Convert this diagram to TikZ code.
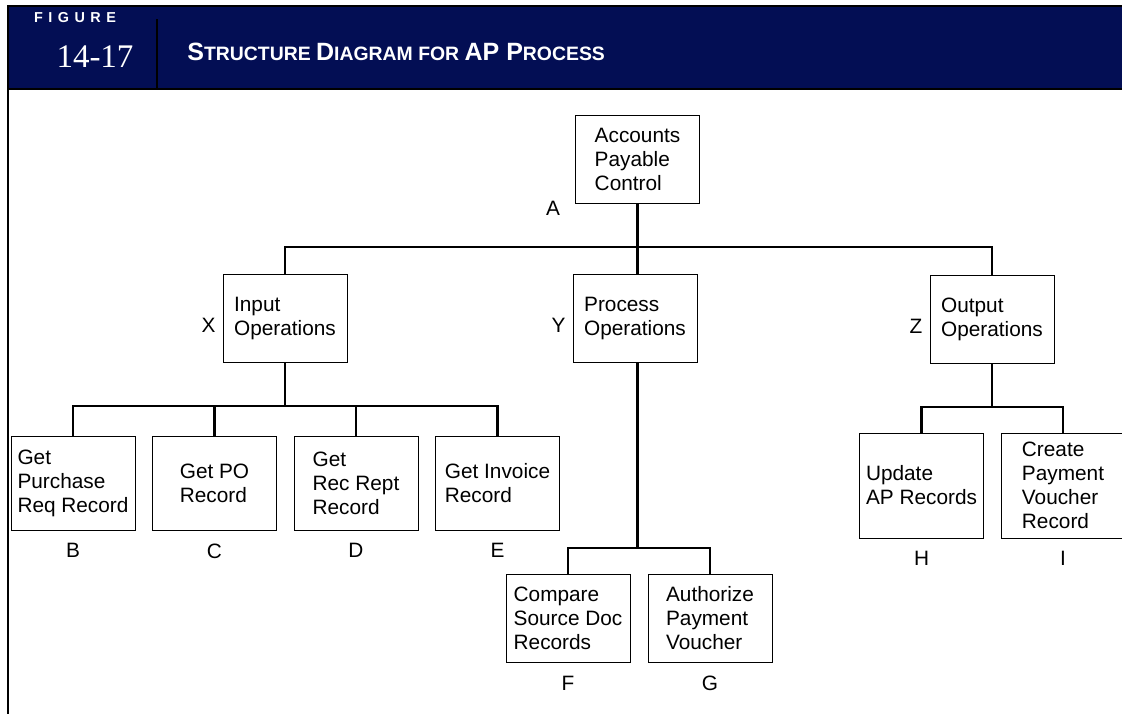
\documentclass[tikz,border=0pt]{standalone}
\usepackage{fontspec}
\setmainfont{Liberation Sans}
\newfontfamily\figserif{Liberation Serif}
\usetikzlibrary{positioning}
\definecolor{hdrblue}{RGB}{3,14,84}

\begin{document}
\begin{tikzpicture}[
    x=0.5pt, y=-0.5pt,
    box/.style={draw, line width=0.5pt, minimum width=62pt, minimum height=44pt,
                inner sep=0pt, align=left, font=\fontsize{10.4}{12}\selectfont},
    tallbox/.style={box, minimum height=47pt},
    bigbox/.style={box, minimum height=52.5pt},
    conn/.style={line width=1.3pt},
    frame/.style={line width=1.3pt},
    every label/.style={font=\fontsize{10.4}{12}\selectfont}
]
  \useasboundingbox (0,0) rectangle (1122,714);

  % --- HEADER ---
  \fill[hdrblue] (9,7) rectangle (1122,88);
  \draw[frame] (8,6) -- (1122,6);
  \draw[frame] (8,5) -- (8,714);
  \draw[frame] (8,89) -- (1122,89);
  \draw[line width=1.3pt] (157,19) -- (157,88);
  \node[text=white, font=\fontsize{7.2}{8}\selectfont\bfseries\addfontfeature{LetterSpace=38}] (fig) at (75,18) {FIGURE};
  \node[text=white, font=\fontsize{16.5}{18}\selectfont\figserif] (num) at (95,57) {14-17};
  \node[text=white, anchor=west, inner sep=0pt, font=\bfseries] (title) at (187,52)
    {\fontsize{12.5}{14}\selectfont S\fontsize{9.7}{11}\selectfont TRUCTURE
     \fontsize{12.5}{14}\selectfont D\fontsize{9.7}{11}\selectfont IAGRAM FOR
     \fontsize{12.5}{14}\selectfont AP P\fontsize{9.7}{11}\selectfont ROCESS};

  % --- TOP LEVEL ---
  \node[box, label={[xshift=-4pt, yshift=4.5pt]south west:A}] (A) at (637.5,159) {Accounts\\Payable\\Control};

  % --- SECOND LEVEL ---
  \node[box, label={[yshift=-3.5pt]left:X}] (X) at (285,318) {Input\\Operations};
  \node[box, label={[yshift=-3.5pt]left:Y}] (Y) at (635,318) {Process\\Operations};
  \node[box, label={[yshift=-3.5pt]left:Z}] (Z) at (992,319) {Output\\Operations};

  % --- THIRD LEVEL ---
  \node[tallbox, label={[label distance=3pt]below:B}] (B) at (73,483) {Get\\Purchase\\Req Record};
  \node[tallbox, label={[label distance=3pt]below:C}] (C) at (214.5,483) {Get PO\\Record};
  \node[tallbox, label={[label distance=3pt]below:D}] (D) at (356,483) {Get\\Rec Rept\\Record};
  \node[tallbox, label={[label distance=3pt]below:E}] (E) at (497.5,483) {Get Invoice\\Record};
  \node[box, label={[label distance=3pt]below:F}] (F) at (568,618.5) {Compare\\Source Doc\\Records};
  \node[box, label={[label distance=3pt]below:G}] (G) at (710,618.5) {Authorize\\Payment\\Voucher};
  \node[bigbox, label={[label distance=3pt]below:H}] (H) at (921.5,485.5) {Update\\AP Records};
  \node[bigbox, label={[label distance=3pt]below:I}] (I) at (1063,485.5) {Create\\Payment\\Voucher\\Record};

  % --- BUS POINTS ---
  \coordinate (busA) at (637.5,247);
  \coordinate (busX) at (285,406);
  \coordinate (busY) at (637.5,548);
  \coordinate (busZ) at (992,407);

  % --- DRAWING CONNECTORS ---
  \draw[conn] (A.south) -- (busA);
  \draw[conn] (X.north) |- (busA) -| (Z.north);
  \draw[conn] (Y.north -| busA) -- (busA);

  \draw[conn] (X.south) -- (busX);
  \draw[conn] (B.north) |- (busX) -| (E.north);
  \draw[conn] (C.north) -- (C.north |- busX);
  \draw[conn] (D.north) -- (D.north |- busX);

  \draw[conn] (Y.south -| busY) -- (busY);
  \draw[conn] (F.north) |- (busY) -| (G.north);

  \draw[conn] (Z.south) -- (busZ);
  \draw[conn] (H.north) |- (busZ) -| (I.north);
\end{tikzpicture}
\end{document}
